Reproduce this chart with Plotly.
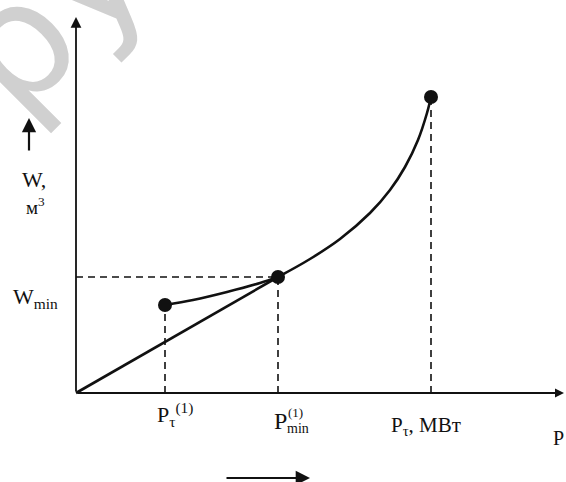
import plotly.graph_objects as go

# ---- data (arbitrary units) ----
P_tau1, W_tau1 = 1.78, 1.76          # point P_tau^(1)
P_min, W_min = 4.04, 2.32            # point P_min^(1)
P_tau, W_tau = 7.10, 5.92            # point P_tau

# curve from P_tau^(1) to P_min^(1)
curve1_x = [1.78, 2.34, 3.02, 3.68, 4.04]
curve1_y = [1.76, 1.86, 2.02, 2.20, 2.32]
# curve from P_min^(1) to P_tau
curve2_x = [4.04, 4.68, 5.28, 5.88, 6.28, 6.58, 6.84, 7.02, 7.10]
curve2_y = [2.32, 2.68, 3.08, 3.60, 4.06, 4.52, 5.06, 5.60, 5.92]
# straight line from origin
line_x = [0, 4.04]
line_y = [0, 2.32]

X_MAX, Y_MAX = 9.76, 7.52

W_PX, H_PX = 566, 482

# pixel helpers (for placing text only)
def X(px):
    return (px - 76) / 50.0

def Y(py):
    return (393 - py) / 50.0

FONT = "Liberation Serif, Times New Roman, serif"
BLACK = "#111111"

fig = go.Figure()

dash = "7px,5px"
# dashed guides
fig.add_trace(go.Scatter(x=[0, P_min], y=[W_min, W_min], mode="lines",
                         line=dict(color=BLACK, width=1.6, dash=dash), hoverinfo="skip"))
for px_, py_ in [(P_tau1, W_tau1), (P_min, W_min), (P_tau, W_tau)]:
    fig.add_trace(go.Scatter(x=[px_, px_], y=[0, py_], mode="lines",
                             line=dict(color=BLACK, width=1.6, dash=dash), hoverinfo="skip"))

# solid lines
fig.add_trace(go.Scatter(x=line_x, y=line_y, mode="lines",
                         line=dict(color=BLACK, width=2.6), hoverinfo="skip"))
fig.add_trace(go.Scatter(x=curve1_x, y=curve1_y, mode="lines", line_shape="spline",
                         line=dict(color=BLACK, width=2.6), hoverinfo="skip"))
fig.add_trace(go.Scatter(x=curve2_x, y=curve2_y, mode="lines", line_shape="spline",
                         line=dict(color=BLACK, width=2.6), hoverinfo="skip"))
# points
fig.add_trace(go.Scatter(x=[P_tau1, P_min, P_tau], y=[W_tau1, W_min, W_tau], mode="markers",
                         marker=dict(color=BLACK, size=14), hoverinfo="skip"))

annotations = []
# watermark (first, so that axis arrows are drawn over it)
annotations.append(dict(x=-27 / W_PX, y=1 - 85 / H_PX, xref="paper", yref="paper",
                        xanchor="center", yanchor="middle",
                        text="Copy", showarrow=False, textangle=-45,
                        font=dict(family="DejaVu Sans", size=160, color="#d0d0d0")))

# axes with arrows
annotations.append(dict(x=0, y=Y_MAX, ax=0, ay=0, xref="x", yref="y", axref="x", ayref="y",
                        text="", showarrow=True, arrowhead=2, arrowsize=1.2, arrowwidth=1.8,
                        arrowcolor=BLACK))
annotations.append(dict(x=X_MAX, y=0, ax=0, ay=0, xref="x", yref="y", axref="x", ayref="y",
                        text="", showarrow=True, arrowhead=2, arrowsize=1.0, arrowwidth=1.8,
                        arrowcolor=BLACK))
# direction arrows
annotations.append(dict(x=X(29), y=Y(118), ax=X(29), ay=Y(152), xref="x", yref="y",
                        axref="x", ayref="y", text="", showarrow=True, arrowhead=2,
                        arrowsize=1.3, arrowwidth=2.2, arrowcolor=BLACK))
annotations.append(dict(x=X(310), y=Y(478), ax=X(225), ay=Y(478), xref="x", yref="y",
                        axref="x", ayref="y", text="", showarrow=True, arrowhead=2,
                        arrowsize=1.3, arrowwidth=2.2, arrowcolor=BLACK))

def label(text, px, py, size=19, anchor="center"):
    annotations.append(dict(x=px / W_PX, y=1 - py / H_PX, xref="paper", yref="paper",
                            text=text, showarrow=False,
                            xanchor=anchor, yanchor="middle",
                            font=dict(family=FONT, size=size, color=BLACK)))

label("W,", 34, 179, 22)
label("м<sup>3</sup>", 35, 206, 19)
label("W<sub>min</sub>", 35, 298, 22)
label("P<sub>τ</sub><sup>(1)</sup>", 175, 414, 22)
label("P", 280, 421, 24)
label("(1)", 295, 412, 13)
label("min", 298, 428, 14)
label("P<sub>τ</sub>, МВт", 426, 426, 21)
label("P", 566, 438, 20, "right")

fig.update_layout(
    width=W_PX, height=H_PX,
    margin=dict(l=0, r=0, t=0, b=0),
    paper_bgcolor="white", plot_bgcolor="white",
    showlegend=False,
    xaxis=dict(range=[-76 / 50.0, 490 / 50.0], visible=False, fixedrange=True),
    yaxis=dict(range=[-89 / 50.0, 393 / 50.0], visible=False, fixedrange=True),
    annotations=annotations,
)

fig.write_html("out.html", config={"displayModeBar": False},
               post_script="document.body.style.margin='0px';document.body.style.overflow='hidden';")
